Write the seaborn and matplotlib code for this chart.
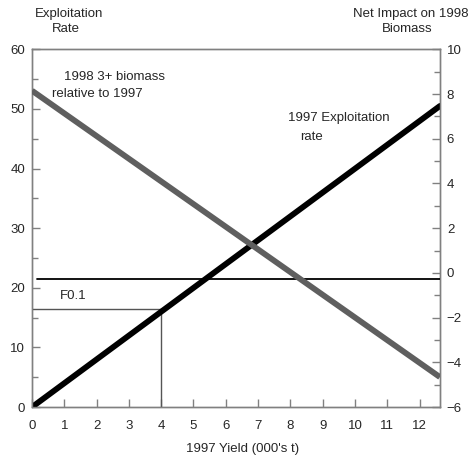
import matplotlib
matplotlib.use("Agg")
import matplotlib.pyplot as plt
import seaborn as sns
import pandas as pd

# Data
yield_kt = [0.0, 12.63]
exploitation_rate = [0.0, 50.5]          # left axis
biomass_impact = [8.15, -4.66]           # right axis
f01_yield = 4.0
f01_rate = 16.4
zero_line_right = -0.25

sns.set_theme(style="white")
plt.rcParams['font.family'] = ['Liberation Sans', 'DejaVu Sans']

fig = plt.figure(figsize=(4.68, 4.61), dpi=100)
ax = fig.add_axes([0.0684, 0.117, 0.940 - 0.0684, 0.893 - 0.117])
ax2 = ax.twinx()

df1 = pd.DataFrame({"x": yield_kt, "y": exploitation_rate})
df2 = pd.DataFrame({"x": yield_kt, "y": biomass_impact})

sns.lineplot(data=df1, x="x", y="y", ax=ax, color="black", linewidth=4.2,
             solid_capstyle="round", zorder=5)
sns.lineplot(data=df2, x="x", y="y", ax=ax2, color="#5f5f5f", linewidth=4.2,
             solid_capstyle="butt", zorder=4)

# zero line (right axis) and F0.1 lines
ax2.plot([0.15, 12.63], [zero_line_right, zero_line_right], color="black", lw=1.3, zorder=3)
ax.plot([0, f01_yield], [f01_rate, f01_rate], color="#555555", lw=1.0, zorder=3)
ax.plot([f01_yield, f01_yield], [0, f01_rate], color="#555555", lw=1.0, zorder=3)

ax.set_xlim(0, 12.63)
ax.set_ylim(0, 60)
ax2.set_ylim(-6, 10)

ax.set_xticks(range(0, 13))
ax.set_yticks(range(0, 61, 10))
ax.set_yticks(range(5, 60, 10), minor=True)
ax2.set_yticks(range(-6, 11, 2))
ax2.set_yticks(range(-5, 10, 2), minor=True)

spine_c = "#808080"
fs = 9.5
for a in (ax, ax2):
    for s in a.spines.values():
        s.set_color(spine_c)
        s.set_linewidth(1.0)
ax.tick_params(axis="both", which="both", direction="in", color=spine_c,
               labelsize=fs, length=6, width=1.0, pad=5, left=True, bottom=True)
ax.tick_params(axis="x", which="major", pad=9)
ax.tick_params(axis="y", which="minor", length=4)
ax2.tick_params(axis="y", which="both", direction="in", color=spine_c,
                labelsize=fs, length=6, width=1.0, pad=5, right=True)
ax2.tick_params(axis="y", which="minor", length=4)

ax.set_xlabel("")
ax.set_ylabel("")
ax2.set_xlabel("")
ax2.set_ylabel("")

H = 461.0
W = 468.0
fig.text(69 / W, 1 - 14 / H, "Exploitation", ha="center", va="center", fontsize=fs)
fig.text(66 / W, 1 - 29 / H, "Rate", ha="center", va="center", fontsize=fs)
fig.text(353 / W, 1 - 14 / H, "Net Impact on 1998", ha="left", va="center", fontsize=fs)
fig.text(407 / W, 1 - 29 / H, "Biomass", ha="center", va="center", fontsize=fs)
fig.text(243 / W, 1 - 449 / H, "1997 Yield (000's t)", ha="center", va="center",
         fontsize=fs)

ax.text(1.0, 55.4, "1998 3+ biomass", fontsize=fs, ha="left", va="center")
ax.text(0.62, 52.5, "relative to 1997", fontsize=fs, ha="left", va="center")
ax.text(7.93, 48.4, "1997 Exploitation", fontsize=fs, ha="left", va="center")
ax.text(8.3, 45.3, "rate", fontsize=fs, ha="left", va="center")
ax.text(0.87, 18.7, "F0.1", fontsize=fs, ha="left", va="center")

fig.savefig("out.png", dpi=100)
